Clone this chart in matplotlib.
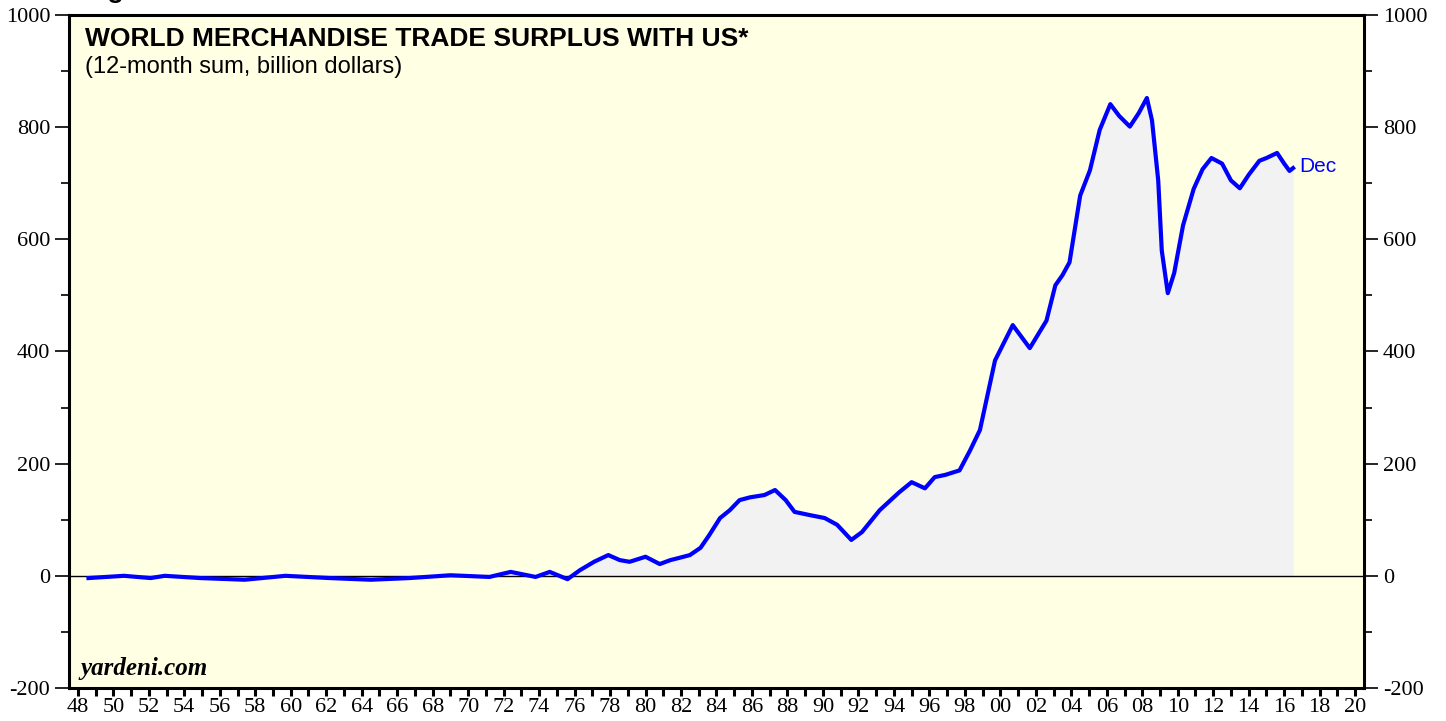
import matplotlib.pyplot as plt
from matplotlib.ticker import MultipleLocator, FixedLocator

plt.rcParams['axes.unicode_minus'] = False

# World merchandise trade surplus with US, 12-month sum, billion dollars
years = [1948.6, 1950.6, 1952.1, 1952.9, 1954.9, 1957.4, 1959.7, 1962.2, 1964.5,
         1966.7, 1969.0, 1971.2, 1972.4, 1973.8, 1974.6, 1975.6, 1976.3, 1977.1,
         1977.9, 1978.55, 1979.1, 1980.0, 1980.8, 1981.4, 1981.9, 1982.5, 1983.1,
         1983.6, 1984.2, 1984.75, 1985.3, 1985.9, 1986.7, 1987.3, 1987.9, 1988.4,
         1989.3, 1990.1, 1990.8, 1991.6, 1992.2, 1993.2, 1994.3, 1995.0, 1995.75,
         1996.3, 1996.9, 1997.7, 1998.3, 1998.85, 1999.7, 2000.7, 2001.66, 2002.6,
         2003.1, 2003.5, 2003.9, 2004.5, 2005.05, 2005.6, 2006.2, 2006.7, 2007.3,
         2007.8, 2008.26, 2008.55, 2008.9, 2009.1, 2009.44, 2009.8, 2010.3, 2010.9,
         2011.4, 2011.9, 2012.5, 2013.0, 2013.5, 2014.0, 2014.6, 2015.0, 2015.6,
         2016.0, 2016.3, 2016.5]
surplus = [-4, 0, -4, 0, -4, -7, 0, -4, -7,
           -4, 1, -2, 7, -2, 7, -6, 10, 25,
           37, 28, 25, 34, 21, 28, 32, 37, 50,
           73, 103, 117, 135, 140, 144, 153, 135, 114,
           108, 103, 91, 64, 78, 117, 149, 167, 156,
           176, 180, 188, 224, 260, 384, 447, 406, 455,
           518, 536, 559, 678, 723, 795, 841, 820, 801,
           825, 852, 812, 705, 580, 504, 540, 625, 690,
           725, 745, 735, 705, 691, 715, 740, 745, 754,
           735, 722, 727]

fig = plt.figure(figsize=(14.46, 7.21), dpi=100)
ax = fig.add_axes([0.0477, 0.0458, 0.8956, 0.9334])
ax.set_facecolor('#ffffe3')

ax.fill_between(years, surplus, 0, where=[v > 0 for v in surplus],
                interpolate=True, color='#f2f2f2', zorder=1)
ax.axhline(0, color='black', lw=1, zorder=2)
ax.plot(years, surplus, color='#0000ff', lw=3, zorder=3, solid_joinstyle='round')
ax.text(years[-1] + 0.35, surplus[-1] + 2, 'Dec', color='#0000ff',
        fontsize=15, family='Liberation Sans', va='center')

ax.set_xlim(1947.5, 2020.5)
ax.set_ylim(-200, 1000)

for s in ax.spines.values():
    s.set_linewidth(2.2)

ax.yaxis.set_major_locator(MultipleLocator(200))
ax.yaxis.set_minor_locator(MultipleLocator(100))
ax.tick_params(axis='y', which='both', left=True, right=True,
               labelleft=True, labelright=True, direction='out',
               labelsize=16, width=1.2)
ax.tick_params(axis='y', which='major', length=10)
ax.tick_params(axis='y', which='minor', length=6)

xt = list(range(1948, 2021, 2))
ax.xaxis.set_major_locator(FixedLocator(xt))
ax.xaxis.set_minor_locator(MultipleLocator(1))
ax.set_xticklabels(['%02d' % (y % 100) for y in xt])
ax.tick_params(axis='x', which='both', direction='out', length=6,
               width=2.2, labelsize=16, pad=1)

for lab in ax.get_xticklabels() + ax.get_yticklabels():
    lab.set_family('Liberation Serif')

ax.text(0.012, 0.965, 'WORLD MERCHANDISE TRADE SURPLUS WITH US*',
        transform=ax.transAxes, fontsize=19, fontweight='bold',
        family='Liberation Sans', va='center')
ax.text(0.012, 0.922, '(12-month sum, billion dollars)',
        transform=ax.transAxes, fontsize=17, family='Liberation Sans',
        va='center')
ax.text(0.009, 0.02, 'yardeni.com', transform=ax.transAxes, fontsize=18,
        fontweight='bold', style='italic', family='Liberation Serif')

# figure caption cut off at the top edge, as in the source image
fig.text(0.058, 1.003, 'Figure', fontsize=19, fontweight='bold',
         family='Liberation Sans', va='baseline')

fig.savefig('out.png', dpi=100)
